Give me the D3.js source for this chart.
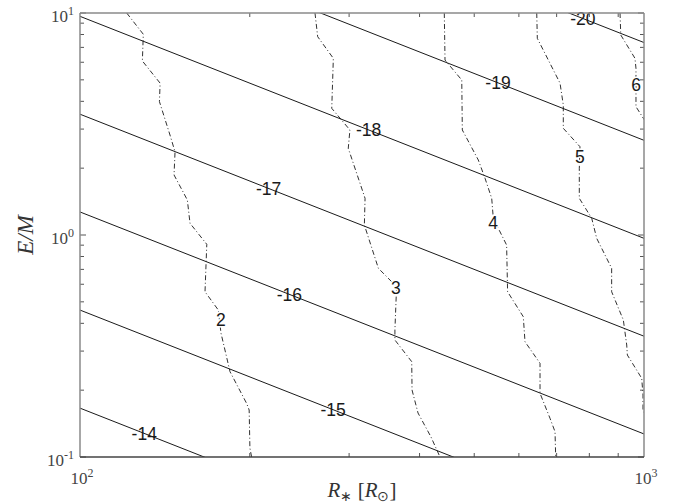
<!DOCTYPE html>
<html>
<head>
<meta charset="utf-8">
<script src="https://cdn.jsdelivr.net/npm/d3@7"></script>
<style>
  html, body { margin: 0; padding: 0; background: #fff; }
  svg { display: block; }
</style>
</head>
<body>
<div id="chart"></div>
<script>
// Solid contours: straight lines in log-log space, given by E/M at R = 100 and R = 1000
const levels = [-14, -15, -16, -17, -18, -19, -20];
const emAtR100 = [0.166, 0.459, 1.27, 3.50, 9.66, 26.7, 73.6];
const emAtR1000 = [0.0166, 0.0459, 0.127, 0.350, 0.966, 2.67, 7.36];
const levelLabelR = [130, 281, 235, 216, 325, 551, 779];

// Dash-dot contours: [R, E/M] vertices
const ratioLevels = [2, 3, 4, 5, 6];
const contour2 = [[121.0, 10], [129.5, 8.02], [129.0, 6.08], [138.7, 4.83], [138.3, 3.99], [144.4, 2.82],
  [147.4, 2.37], [146.8, 1.864], [155.0, 1.438], [156.7, 1.129], [167.8, 0.908], [166.6, 0.555],
  [175.9, 0.459], [177.8, 0.362], [184.5, 0.2422], [197.4, 0.1745], [199.5, 0.1628], [200.1, 0.1098], [201.5, 0.1]];
const contour3 = [[261.0, 10], [263.9, 7.82], [281.3, 6.25], [279.5, 3.72], [301.0, 2.972], [299.0, 2.458],
  [320.2, 1.463], [319.3, 1.109], [338.1, 0.708], [364.2, 0.585], [361.7, 0.3733], [361.7, 0.3365],
  [387.4, 0.2688], [387.9, 0.2003], [397.5, 0.1578], [419.1, 0.1231], [434.8, 0.1]];
const contour4 = [[442.5, 10], [443.8, 6.14], [475.2, 4.99], [476.3, 2.972], [508.4, 2.177], [522.6, 1.800],
  [537.0, 1.463], [540.5, 1.189], [570.7, 0.901], [573.0, 0.555], [610.9, 0.4285], [615.2, 0.3306],
  [654.1, 0.2643], [654.1, 0.1936], [681.3, 0.1494], [695.4, 0.1300], [697.3, 0.1]];
const contour5 = [[645.4, 10], [646.9, 7.69], [709.8, 4.83], [719.3, 3.85], [719.3, 3.024], [770.0, 2.499],
  [767.9, 1.998], [767.9, 1.463], [807.8, 1.189], [824.4, 0.966], [876.3, 0.708], [876.3, 0.555],
  [919.1, 0.4142], [931.9, 0.3195], [934.3, 0.288], [990.7, 0.2262], [995.9, 0.1902], [995.9, 0.1628], [1025, 0.1394]];
const contour6 = [[906.8, 10], [909.5, 7.96], [963.8, 6.25], [967.8, 5.63], [967.8, 3.784], [997.2, 3.356], [1025, 3.034]];
const ratioContours = [contour2, contour3, contour4, contour5, contour6];
const ratioLabelPos = [[177.8, 0.414], [363, 0.577], [540, 1.133], [770, 2.245], [968, 4.74]];

// Axis ticks
const xMinorTicks = [200, 300, 400, 500, 600, 700, 800, 900];
const yMinorTicks = [0.2, 0.3, 0.4, 0.5, 0.6, 0.7, 0.8, 0.9, 2, 3, 4, 5, 6, 7, 8, 9];
const xMajorTicks = [100, 1000];
const yMajorTicks = [0.1, 1, 10];
const xTickExp = ["2", "3"];
const yTickExp = ["-1", "0", "1"];

const W = 673, H = 504;
const margin = { left: 80, top: 13, right: 29, bottom: 47 };
const x0 = margin.left, x1 = W - margin.right;
const y0 = margin.top, y1 = H - margin.bottom;

const svg = d3.select("#chart").append("svg").attr("width", W).attr("height", H);

const x = d3.scaleLog().domain([100, 1000]).range([x0, x1]);
const y = d3.scaleLog().domain([0.1, 10]).range([y1, y0]);

svg.append("clipPath").attr("id", "plot-clip")
  .append("rect").attr("x", x0).attr("y", y0).attr("width", x1 - x0).attr("height", y1 - y0);

const plot = svg.append("g").attr("clip-path", "url(#plot-clip)");
const line = d3.line().x(d => x(d[0])).y(d => y(d[1]));

// Solid contour lines
levels.forEach((lv, i) => {
  plot.append("path")
    .datum([[100, emAtR100[i]], [1000, emAtR1000[i]]])
    .attr("d", line)
    .attr("fill", "none")
    .attr("stroke", "#1a1a1a")
    .attr("stroke-width", 1);
});

// Dash-dot contour lines
ratioContours.forEach(c => {
  plot.append("path")
    .datum(c)
    .attr("d", line)
    .attr("fill", "none")
    .attr("stroke", "#1a1a1a")
    .attr("stroke-width", 0.9)
    .attr("stroke-dasharray", "5,2.5,1,2.5");
});

// Labels on solid lines, positioned along each line in log space
const labelFont = "'Liberation Sans', Arial, sans-serif";
const labelSize = 17.5;
levels.forEach((lv, i) => {
  const t = Math.log10(levelLabelR[i] / 100);
  const logEm = Math.log10(emAtR100[i]) + t * (Math.log10(emAtR1000[i]) - Math.log10(emAtR100[i]));
  svg.append("text")
    .attr("x", x(levelLabelR[i]))
    .attr("y", y(Math.pow(10, logEm)))
    .attr("dy", "0.36em")
    .attr("text-anchor", "middle")
    .attr("font-family", labelFont)
    .attr("font-size", labelSize)
    .attr("fill", "#1a1a1a")
    .text(lv);
});

// Labels on dash-dot lines
ratioLevels.forEach((lv, i) => {
  svg.append("text")
    .attr("x", x(ratioLabelPos[i][0]))
    .attr("y", y(ratioLabelPos[i][1]))
    .attr("dy", "0.36em")
    .attr("text-anchor", "middle")
    .attr("font-family", labelFont)
    .attr("font-size", labelSize)
    .attr("fill", "#1a1a1a")
    .attr("stroke", "#fff")
    .attr("stroke-width", 3)
    .attr("paint-order", "stroke")
    .text(lv);
});

// Ticks (inward, on all four sides)
const tickCol = "#555";
const ticks = svg.append("g").attr("stroke", tickCol).attr("stroke-width", 1);
function xTick(v, len) {
  ticks.append("line").attr("x1", x(v)).attr("x2", x(v)).attr("y1", y1).attr("y2", y1 - len);
  ticks.append("line").attr("x1", x(v)).attr("x2", x(v)).attr("y1", y0).attr("y2", y0 + len);
}
function yTick(v, len) {
  ticks.append("line").attr("y1", y(v)).attr("y2", y(v)).attr("x1", x0).attr("x2", x0 + len);
  ticks.append("line").attr("y1", y(v)).attr("y2", y(v)).attr("x1", x1).attr("x2", x1 - len);
}
xMinorTicks.forEach(v => xTick(v, 4));
yMinorTicks.forEach(v => yTick(v, 4));
yMajorTicks.forEach(v => yTick(v, 6));

// Axis box
svg.append("line").attr("x1", x0).attr("x2", x1).attr("y1", y0).attr("y2", y0).attr("stroke", "#8a8a8a").attr("stroke-width", 1.5);
svg.append("line").attr("x1", x1).attr("x2", x1).attr("y1", y0).attr("y2", y1).attr("stroke", "#8a8a8a").attr("stroke-width", 1.5);
svg.append("line").attr("x1", x0).attr("x2", x0).attr("y1", y0).attr("y2", y1).attr("stroke", "#8a8a8a").attr("stroke-width", 1.5);
svg.append("line").attr("x1", x0).attr("x2", x1).attr("y1", y1).attr("y2", y1).attr("stroke", "#444").attr("stroke-width", 1.5);

// Tick labels (10^n)
const serif = "'Liberation Serif', 'Times New Roman', serif";
function powerLabel(px, py, exp, anchor) {
  const t = svg.append("text")
    .attr("x", px).attr("y", py)
    .attr("text-anchor", anchor)
    .attr("font-family", serif)
    .attr("font-size", 17)
    .attr("fill", "#444");
  t.append("tspan").text("10");
  t.append("tspan").attr("dy", -7).attr("font-size", 12).text(exp);
}
xMajorTicks.forEach((v, i) => powerLabel(x(v) + 2, y1 + 27, xTickExp[i], "middle"));
yMajorTicks.forEach((v, i) => powerLabel(x0 - 6, y(v) + 9, yTickExp[i], "end"));

// Axis titles
const xt = svg.append("text")
  .attr("x", 362).attr("y", 497)
  .attr("text-anchor", "middle")
  .attr("font-family", serif)
  .attr("font-size", 21)
  .attr("fill", "#333");
xt.append("tspan").attr("font-style", "italic").text("R");
xt.append("tspan").attr("dy", 4).attr("font-size", 14).text("∗");
xt.append("tspan").attr("dy", -4).text(" [");
xt.append("tspan").attr("font-style", "italic").text("R");
xt.append("tspan").attr("dy", 4).attr("font-size", 14).text("⊙");
xt.append("tspan").attr("dy", -4).text("]");

svg.append("text")
  .attr("transform", `translate(33, ${y(1)}) rotate(-90)`)
  .attr("text-anchor", "middle")
  .attr("font-family", serif)
  .attr("font-size", 23)
  .attr("font-style", "italic")
  .attr("fill", "#333")
  .text("E/M");
</script>
</body>
</html>
